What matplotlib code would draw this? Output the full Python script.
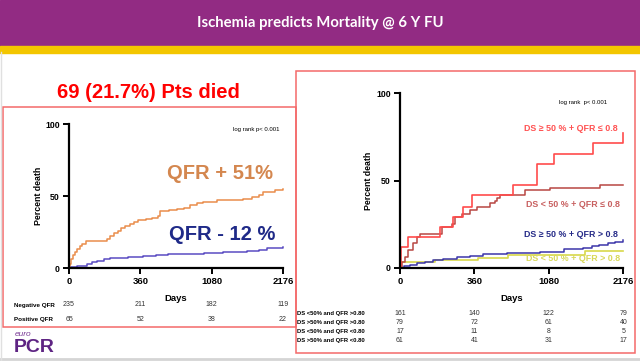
import numpy as np
import matplotlib
matplotlib.use("Agg")
import matplotlib.pyplot as plt
from matplotlib.patches import Rectangle
from matplotlib.transforms import blended_transform_factory

plt.rcParams['font.family'] = ['Liberation Sans', 'DejaVu Sans']

# ---- data ----
tick_days = [0, 360, 1080, 2176]

# left panel: QFR positive / negative
qfr_pos_days = [0, 4, 10, 18, 28, 40, 55, 65, 85, 190, 205, 225, 245, 262, 285, 308, 330, 350,
                420, 480, 541, 559, 650, 727, 800, 861, 930, 996, 1158, 1350, 1566, 1700, 1800,
                1874, 2050, 2176]
qfr_pos_pct = [0, 3, 6, 9, 11, 13.5, 15, 16.5, 19, 20, 22.5, 24, 26, 27.5, 29, 30.5, 32, 33,
               34, 35, 36, 39.5, 40, 41, 42, 43.5, 45, 46, 47, 47.5, 48, 49.5, 51,
               53, 54, 55]
qfr_neg_days = [0, 10, 40, 89, 115, 140, 175, 207, 300, 390, 520, 640, 794, 1000, 1250, 1620,
                1800, 1927, 2050, 2176]
qfr_neg_pct = [0, 1, 1.5, 3, 4, 5, 6, 7, 7.5, 8.3, 9, 9.5, 10, 10.7, 11.3, 12,
               12.8, 13.6, 14.2, 14.7]
left_risk_labels = ['Negative QFR', 'Positive QFR']
left_risk = [[235, 211, 182, 119], [65, 52, 38, 22]]

# right panel: DS / QFR groups
ds_hi_qfr_lo_days = [0, 3, 40, 194, 258, 306, 347, 736, 969, 1157, 1727, 2165, 2176]
ds_hi_qfr_lo_pct = [0, 12, 17.8, 23.5, 29, 35, 41.7, 47.4, 59.3, 65.2, 71.3, 77, 77]
ds_lo_qfr_lo_days = [0, 10, 24, 40, 64, 81, 97, 202, 250, 266, 298, 339, 382, 511, 559, 576,
                     608, 850, 1090, 1834, 2176]
ds_lo_qfr_lo_pct = [0, 3, 6, 10, 14, 17.8, 19.5, 23.5, 25, 29, 31, 33, 35, 37, 38.5, 40,
                    41.7, 44.6, 45.5, 47.4, 47.4]
ds_hi_qfr_hi_days = [0, 20, 48, 81, 121, 160, 210, 274, 339, 446, 672, 995, 1310, 1589, 1716,
                     1812, 1957, 2055, 2176]
ds_hi_qfr_hi_pct = [0, 1, 1.5, 2.5, 3.5, 4.5, 5.2, 6.2, 6.9, 7.7, 8.5, 9.2, 10.7, 11.5, 12.3,
                    13, 14, 15, 16]
ds_lo_qfr_hi_days = [0, 5, 168, 395, 685, 1610, 2176]
ds_lo_qfr_hi_pct = [0, 3.1, 4.4, 5.7, 7.3, 9.6, 9.6]
right_risk_labels = ['DS <50% and QFR >0.80', 'DS >50% and QFR >0.80',
                     'DS <50% and QFR <0.80', 'DS >50% and QFR <0.80']
right_risk = [[161, 140, 122, 79], [79, 72, 61, 40], [17, 11, 8, 5], [61, 41, 31, 17]]

# colours
purple = '#922B83'
gold = '#F3C600'
box_red = '#F46A6A'
W, H = 640, 361


def fx(x):
    return x / W


def fy(y):
    return 1 - y / H


# x axis of the KM plots: ticks equally spaced, piecewise linear in days
def fwd(d):
    d = np.asarray(d, float)
    return np.where(d < 360, d / 360, np.where(d < 1080, 1 + (d - 360) / 720, 2 + (d - 1080) / 1096))


def inv(t):
    t = np.asarray(t, float)
    return np.where(t < 1, t * 360, np.where(t < 2, 360 + (t - 1) * 720, 1080 + (t - 2) * 1096))


def km_axes(rect, ylab_pad):
    ax = fig.add_axes(rect)
    ax.set_xscale('function', functions=(fwd, inv))
    ax.set_xlim(0, 2176)
    ax.set_ylim(0, 100)
    for s in ['top', 'right']:
        ax.spines[s].set_visible(False)
    for s in ['left', 'bottom']:
        ax.spines[s].set_linewidth(1.6)
    ax.set_xticks(tick_days)
    ax.set_xticklabels([str(t) for t in tick_days], fontweight='bold', fontsize=6.8)
    ax.set_yticks([0, 50, 100])
    ax.set_yticklabels(['0', '50', '100'], fontweight='bold', fontsize=6.3)
    ax.xaxis.set_minor_locator(matplotlib.ticker.NullLocator())
    ax.tick_params(axis='both', length=4, width=1.4, pad=2.5)
    ax.set_xlabel('Days', fontweight='bold', fontsize=6.8, labelpad=6)
    ax.set_ylabel('Percent death', fontweight='bold', fontsize=6.3, labelpad=ylab_pad)
    ax.patch.set_alpha(0)
    return ax


fig = plt.figure(figsize=(6.4, 3.61), dpi=100)

# slide header
fig.patches.append(Rectangle((0, fy(46)), 1, 46 / H, transform=fig.transFigure, color=purple, zorder=0))
fig.patches.append(Rectangle((0, fy(52.5)), 1, 6.5 / H, transform=fig.transFigure, color=gold, zorder=0))
fig.text(0.5, fy(23.5), 'Ischemia predicts Mortality @ 6 Y FU', color='white', fontsize=10.7,
         fontweight='bold', family=['Lato', 'DejaVu Sans'], ha='center', va='center')

# slide frame lines
fig.add_artist(plt.Line2D([0, 1], [fy(359), fy(359)], transform=fig.transFigure, color='#D5D5D5', lw=2))
fig.add_artist(plt.Line2D([fx(0.5), fx(0.5)], [fy(52), 0], transform=fig.transFigure, color='#E0E0E0', lw=1))

# red boxes
fig.patches.append(Rectangle((fx(3), fy(327)), fx(296 - 3), (327 - 107) / H, transform=fig.transFigure,
                             fill=False, edgecolor=box_red, lw=1.1))
fig.patches.append(Rectangle((fx(296), fy(353)), fx(635 - 296), (353 - 71) / H, transform=fig.transFigure,
                             fill=False, edgecolor=box_red, lw=1.1))
fig.text(fx(148), fy(93), '69 (21.7%) Pts died', color='#FF0000', fontsize=14.5, fontweight='bold',
         ha='center', va='center')

# ---- left KM plot ----
axL = km_axes([fx(69), fy(268), fx(283 - 69), (268 - 124) / H], 1.5)
axL.plot(qfr_pos_days, qfr_pos_pct, drawstyle='steps-post', color='#EA8D4B', lw=1.1, clip_on=False)
axL.plot(qfr_neg_days, qfr_neg_pct, drawstyle='steps-post', color='#5A4CC2', lw=1.1, clip_on=False)
axL.text(0.985, 0.96, 'log rank p< 0.001', transform=axL.transAxes, fontsize=4.3, ha='right', va='center')
axL.text(0.955, 0.655, 'QFR + 51%', transform=axL.transAxes, fontsize=14.5, fontweight='bold',
         color='#D4874F', ha='right', va='center')
axL.text(0.965, 0.23, 'QFR - 12 %', transform=axL.transAxes, fontsize=14.5, fontweight='bold',
         color='#1F2A88', ha='right', va='center')

trL = blended_transform_factory(axL.transData, fig.transFigure)
for i, (lab, row) in enumerate(zip(left_risk_labels, left_risk)):
    yy = fy(305 + i * 14.5)
    fig.text(fx(14), yy, lab, fontsize=4.5, fontweight='bold', ha='left', va='center')
    for d, n in zip(tick_days, row):
        fig.text(d, yy, str(n), transform=trL, fontsize=5, ha='center', va='center', color='#333333')

# ---- right KM plot ----
axR = km_axes([fx(400), fy(267.7), fx(623.3 - 400), (267.7 - 93.3) / H], 2.5)
axR.plot(ds_lo_qfr_hi_days, ds_lo_qfr_hi_pct, drawstyle='steps-post', color='#D8D84A', lw=1.2, clip_on=False)
axR.plot(ds_hi_qfr_hi_days, ds_hi_qfr_hi_pct, drawstyle='steps-post', color='#3C36AA', lw=1.1, clip_on=False)
axR.plot(ds_lo_qfr_lo_days, ds_lo_qfr_lo_pct, drawstyle='steps-post', color='#B84642', lw=1.1, clip_on=False)
axR.plot(ds_hi_qfr_lo_days, ds_hi_qfr_lo_pct, drawstyle='steps-post', color='#FF4B4B', lw=1.2, clip_on=False)
axR.text(0.82, 0.945, 'log rank  p< 0.001', transform=axR.transAxes, fontsize=4.3, ha='center', va='center')
lab_kw = dict(transform=axR.transAxes, fontsize=6.4, fontweight='bold', ha='right', va='center')
axR.text(0.975, 0.80, 'DS \u2265 50 % + QFR \u2264 0.8', color='#FF5252', **lab_kw)
axR.text(0.985, 0.365, 'DS < 50 % + QFR \u2264 0.8', color='#C86060', **lab_kw)
axR.text(0.975, 0.19, 'DS \u2265 50 % + QFR > 0.8', color='#262B88', **lab_kw)
axR.text(0.985, 0.05, 'DS < 50 % + QFR > 0.8', color='#D8D85A', **lab_kw)

trR = blended_transform_factory(axR.transData, fig.transFigure)
for i, (lab, row) in enumerate(zip(right_risk_labels, right_risk)):
    yy = fy(313.5 + i * 9)
    fig.text(fx(297), yy, lab, fontsize=4.2, fontweight='bold', ha='left', va='center')
    for d, n in zip(tick_days, row):
        fig.text(d, yy, str(n), transform=trR, fontsize=5, ha='center', va='center', color='#333333')

# euroPCR logo
fig.text(fx(15), fy(334), 'euro', color='#7A3A96', fontsize=6, style='italic', ha='left', va='center')
fig.text(fx(14), fy(348), 'PCR', color='#5E2483', fontsize=14, fontweight='bold', ha='left', va='center')

fig.savefig('out.png', dpi=100)
